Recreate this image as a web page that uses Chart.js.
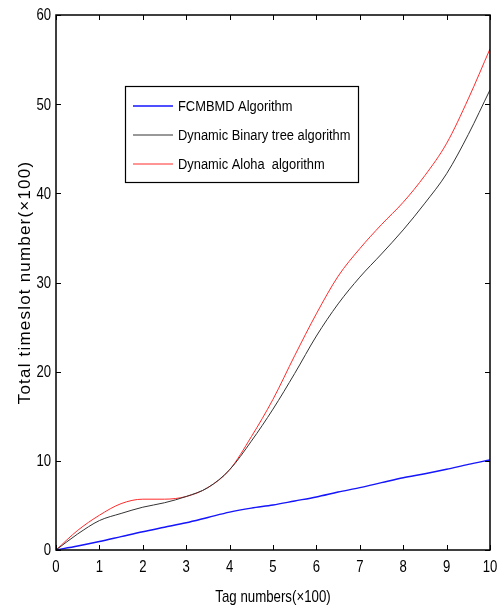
<!DOCTYPE html>
<html>
<head>
<meta charset="utf-8">
<script src="https://cdn.jsdelivr.net/npm/chart.js@4/dist/chart.umd.min.js"></script>
<style>
  html, body { margin: 0; padding: 0; background: #fff; }
  #wrap { width: 499px; height: 607px; }
</style>
</head>
<body>
<div id="wrap"><canvas id="timeslotChart"></canvas></div>
<script>
// tag numbers (x100)
var tagNumbers = [0, 0.5, 1, 1.5, 2, 2.5, 3, 3.5, 4, 4.5, 5, 5.5, 6, 6.5, 7, 7.5, 8, 8.5, 9, 9.5, 10];
// total timeslot number (x100)
var fcmbmd     = [0, 0.45, 0.95, 1.5, 2.05, 2.55, 3.05, 3.65, 4.25, 4.7, 5.05, 5.5, 5.95, 6.5, 7.0, 7.55, 8.1, 8.55, 9.05, 9.6, 10.1];
var binaryTree = [0, 1.8, 3.3, 4.1, 4.8, 5.3, 6.0, 7.0, 9.0, 12.2, 15.8, 19.8, 24.0, 27.6, 30.6, 33.2, 35.9, 38.9, 42.2, 46.6, 51.6];
var aloha      = [0, 2.2, 3.9, 5.2, 5.7, 5.7, 6.0, 7.0, 9.0, 12.7, 16.9, 21.8, 26.5, 30.7, 33.8, 36.5, 39.0, 42.0, 45.6, 50.6, 56.2];
var seriesNames = ["FCMBMD Algorithm", "Dynamic Binary tree algorithm", "Dynamic Aloha  algorithm"];
var xTicks = [0, 1, 2, 3, 4, 5, 6, 7, 8, 9, 10];
var yTicks = [0, 10, 20, 30, 40, 50, 60];
var xTitle = 'Tag numbers(\u00d7100)';
var yTitle = 'Total timeslot number(\u00d7100)';

var fontFamily = "'Liberation Sans', Arial, sans-serif";

function points(ys) {
    return tagNumbers.map(function (x, i) { return { x: x, y: ys[i] }; });
}

// squeezed text, like a narrow Arial
function narrowText(ctx, text, x, y, squeeze) {
    ctx.save();
    ctx.translate(x, y);
    ctx.scale(squeeze, 1);
    ctx.fillText(text, 0, 0);
    ctx.restore();
}

// box around the plot with inward ticks on all four sides, plus tick labels and titles
var framePlugin = {
    id: 'frame',
    afterDraw: function (chart) {
        var ctx = chart.ctx, a = chart.chartArea;
        var xs = chart.scales.x, ys = chart.scales.y;
        ctx.save();
        ctx.strokeStyle = '#000';
        ctx.lineWidth = 1.5;
        ctx.strokeRect(a.left, a.top, a.right - a.left, a.bottom - a.top);
        ctx.lineWidth = 1;
        ctx.beginPath();
        xTicks.forEach(function (v) {
            var px = Math.round(xs.getPixelForValue(v)) + 0.5;
            ctx.moveTo(px, a.bottom); ctx.lineTo(px, a.bottom - 5);
            ctx.moveTo(px, a.top); ctx.lineTo(px, a.top + 5);
        });
        yTicks.forEach(function (v) {
            var py = Math.round(ys.getPixelForValue(v)) + 0.5;
            ctx.moveTo(a.left, py); ctx.lineTo(a.left + 5, py);
            ctx.moveTo(a.right, py); ctx.lineTo(a.right - 5, py);
        });
        ctx.stroke();

        ctx.fillStyle = '#000';
        ctx.font = "16px " + fontFamily;
        ctx.textBaseline = 'middle';
        ctx.textAlign = 'right';
        yTicks.forEach(function (v) {
            narrowText(ctx, String(v), a.left - 5, ys.getPixelForValue(v) + 1, 0.82);
        });
        ctx.textAlign = 'center';
        ctx.textBaseline = 'alphabetic';
        xTicks.forEach(function (v) {
            narrowText(ctx, String(v), xs.getPixelForValue(v), a.bottom + 22, 0.82);
        });

        ctx.font = "17px " + fontFamily;
        narrowText(ctx, xTitle, (a.left + a.right) / 2, 602, 0.78);

        ctx.save();
        ctx.font = "17px " + fontFamily;
        ctx.letterSpacing = '1.2px';
        ctx.translate(30, (a.top + a.bottom) / 2);
        ctx.rotate(-Math.PI / 2);
        ctx.textAlign = 'center';
        ctx.fillText(yTitle, 0, 0);
        ctx.restore();
        ctx.restore();
    }
};

// legend box inside the plot
var boxLegend = {
    id: 'boxLegend',
    afterDraw: function (chart) {
        var ctx = chart.ctx;
        var left = 125, top = 86, w = 233, h = 96;
        ctx.save();
        ctx.fillStyle = '#fff';
        ctx.fillRect(left, top, w, h);
        ctx.strokeStyle = '#000';
        ctx.lineWidth = 1.2;
        ctx.strokeRect(left + 0.5, top + 0.5, w, h);
        ctx.font = "14px " + fontFamily;
        ctx.textBaseline = 'middle';
        chart.data.datasets.forEach(function (ds, i) {
            var y = top + 20 + i * 29;
            ctx.strokeStyle = ds.borderColor;
            ctx.lineWidth = ds.borderWidth;
            ctx.beginPath();
            ctx.moveTo(left + 8, y); ctx.lineTo(left + 48, y);
            ctx.stroke();
            ctx.fillStyle = '#000';
            narrowText(ctx, ds.label, left + 53, y + 1, 0.92);
        });
        ctx.restore();
    }
};

var ctx = document.getElementById('timeslotChart').getContext('2d');
new Chart(ctx, {
    type: 'line',
    data: {
        datasets: [{
            label: seriesNames[0],
            data: points(fcmbmd),
            borderColor: '#1414ff',
            borderWidth: 1.4
        }, {
            label: seriesNames[1],
            data: points(binaryTree),
            borderColor: '#333333',
            borderWidth: 1
        }, {
            label: seriesNames[2],
            data: points(aloha),
            borderColor: '#ff2a2a',
            borderWidth: 1
        }]
    },
    options: {
        responsive: true,
        maintainAspectRatio: false,
        animation: false,
        layout: { padding: { left: 0, right: 9, top: 15, bottom: 0 } },
        elements: {
            point: { radius: 0 },
            line: { tension: 0.35, cubicInterpolationMode: 'monotone', fill: false }
        },
        plugins: {
            legend: { display: false },
            tooltip: { enabled: false }
        },
        scales: {
            x: {
                type: 'linear',
                min: 0,
                max: 10,
                afterFit: function (scale) { scale.height = 57; },
                grid: { display: false, drawTicks: false },
                border: { display: false },
                ticks: { display: false, stepSize: 1 }
            },
            y: {
                type: 'linear',
                min: 0,
                max: 60,
                afterFit: function (scale) { scale.width = 56; },
                grid: { display: false, drawTicks: false },
                border: { display: false },
                ticks: { display: false, stepSize: 10 }
            }
        }
    },
    plugins: [framePlugin, boxLegend]
});
</script>
</body>
</html>
